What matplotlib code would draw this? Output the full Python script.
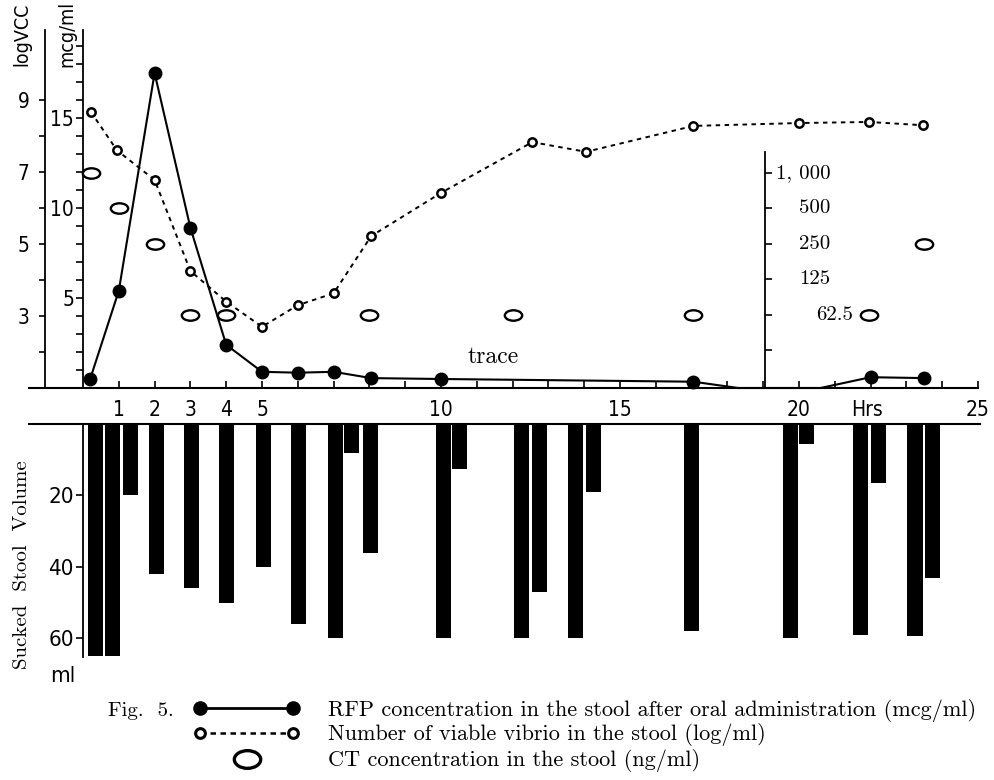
import matplotlib
matplotlib.use("Agg")
import matplotlib.pyplot as plt
import matplotlib.ticker as mticks
from matplotlib.path import Path
from matplotlib.transforms import Affine2D
import numpy as np

W, H = 995, 780

# RFP concentration (mcg/ml), filled dots, solid line
rfp_hours = [0.2, 1.0, 2.0, 3.0, 4.0, 5.0, 6.0, 7.0, 8.05, 10.0, 17.05, 18.3, 20.6, 22.0, 23.5]
rfp_mcg = [0.5, 5.4, 17.5, 8.9, 2.4, 0.9, 0.85, 0.9, 0.55, 0.5, 0.35, 0.0, 0.0, 0.6, 0.55]
rfp_marked = [0, 1, 2, 3, 4, 5, 6, 7, 8, 9, 10, 13, 14]

# viable vibrio (log/ml), open dots, dashed line
vib_hours = [0.22, 0.95, 2.0, 3.0, 4.0, 5.0, 6.0, 7.0, 8.05, 10.0, 12.55, 14.05, 17.05, 20.0, 21.95, 23.45]
vib_log = [8.67, 7.6, 6.78, 4.25, 3.4, 2.7, 3.3, 3.63, 5.22, 6.42, 7.83, 7.56, 8.28, 8.36, 8.39, 8.3]

# CT concentration (ng/ml), open ellipses
ct_hours = [0.22, 1.0, 2.0, 3.0, 4.0, 8.0, 12.0, 17.05, 21.95, 23.5]
ct_ngml = [1000, 500, 250, 62.5, 62.5, 62.5, 62.5, 62.5, 62.5, 250]
ct_ticks = [1000, 500, 250, 125, 62.5, 31.25]
ct_labels = ["1, 000", "500", "250", "125", "62.5", ""]

# sucked stool volume (ml)
stool_hours = [0.35, 0.82, 1.34, 2.04, 3.02, 4.02, 5.03, 6.03, 7.04, 7.49, 8.04, 10.06,
               10.53, 12.26, 12.75, 13.77, 14.25, 17.01, 19.75, 20.22, 21.73, 22.23, 23.24, 23.72]
stool_ml = [65, 65, 20, 42, 46, 50, 40, 56, 60, 8, 36, 60,
            12.5, 60, 47, 60, 19, 58, 60, 5.5, 59, 16.5, 59.5, 43]

hour_labels = [1, 2, 3, 4, 5, 10, 15, 20, 25]

serif = "cmr10"
sans = ["Liberation Sans Narrow", "DejaVu Sans"]


def px_rect(x0, y0, x1, y1):
    return [x0 / W, 1 - y1 / H, (x1 - x0) / W, (y1 - y0) / H]


fig = plt.figure(figsize=(W / 100, H / 100), dpi=100)

# ---- top panel: mcg/ml axis ----
ax = fig.add_axes(px_rect(29.3, 20, 978, 388))
ax.patch.set_visible(False)
ax.set_xlim(-1.5, 25)
ax.set_ylim(0, 368 / 18)
for s in ["top", "right"]:
    ax.spines[s].set_visible(False)
ax.spines["left"].set_position(("data", 0))
ax.spines["left"].set_bounds(0, 19.9)
ax.spines["left"].set_linewidth(1.3)
ax.spines["bottom"].set_linewidth(1.5)
ax.yaxis.set_major_locator(mticks.FixedLocator([5, 10, 15]))
ax.yaxis.set_minor_locator(mticks.FixedLocator([v for v in range(1, 20) if v % 5]))
ax.tick_params(axis="y", which="both", direction="out", length=5, width=1.2, pad=1.5,
               labelsize=15)
ax.xaxis.set_major_locator(mticks.FixedLocator(hour_labels))
ax.xaxis.set_minor_locator(mticks.FixedLocator([h for h in range(6, 25) if h not in hour_labels]))
ax.tick_params(axis="x", which="both", direction="in", length=5, width=1.2, pad=9,
               labelsize=15)
for lab in ax.get_xticklabels() + ax.get_yticklabels():
    lab.set_family(sans)
    lab.set_stretch("condensed")

ax.plot(rfp_hours, rfp_mcg, color="k", lw=1.5, marker="o", ms=9,
        markevery=rfp_marked, clip_on=False, zorder=5)
ax.text(11.45, 1.7, "trace", family=serif, fontsize=17, ha="center", va="center")
ax.text(21.9, -12.5 / 368, "Hrs", transform=ax.get_xaxis_transform(), family=sans,
        stretch="condensed", fontsize=15, ha="center", va="top")

# ---- top panel: logVCC axis ----
ax2 = ax.twinx()
ax2.set_ylim(1, 1 + 368 / 36)
for s in ["top", "right", "bottom"]:
    ax2.spines[s].set_visible(False)
ax2.spines["left"].set_visible(True)
ax2.spines["left"].set_position(("data", -1.06))
ax2.spines["left"].set_bounds(1, 10.94)
ax2.spines["left"].set_linewidth(1.3)
ax2.yaxis.tick_left()
ax2.yaxis.set_major_locator(mticks.FixedLocator([3, 5, 7, 9]))
ax2.yaxis.set_minor_locator(mticks.FixedLocator([2, 4, 6, 8]))
ax2.tick_params(axis="y", which="both", direction="out", length=4, width=1.2, pad=7,
                labelsize=15)
for lab in ax2.get_yticklabels():
    lab.set_family(sans)
    lab.set_stretch("condensed")
ax2.plot(vib_hours, vib_log, color="k", lw=1.4, dashes=(2.3, 2.3), marker="o", ms=6,
         mfc="white", mec="k", mew=1.8, zorder=4)

# ---- top panel: CT axis (log2) ----
ax3 = ax.twinx()
ax3.set_yscale("log", base=2)
ax3.set_ylim(62.5 / 2 ** (73 / 35.5), 62.5 * 2 ** (295 / 35.5))
for s in ["top", "left", "bottom"]:
    ax3.spines[s].set_visible(False)
ax3.spines["right"].set_position(("data", 19.05))
ax3.spines["right"].set_bounds(15.0, 1506)
ax3.spines["right"].set_linewidth(1.3)
ax3.yaxis.set_major_locator(mticks.FixedLocator(ct_ticks))
ax3.yaxis.set_minor_locator(mticks.NullLocator())
ax3.yaxis.set_major_formatter(mticks.NullFormatter())
ax3.tick_params(axis="y", direction="out", length=5, width=1.2)
for v, lab in zip(ct_ticks, ct_labels):
    xr = 21.5 if lab == "62.5" else 20.87
    ax3.text(xr, v, lab, family=serif, fontsize=15, ha="right", va="center")

ellipse = Path.unit_circle().transformed(Affine2D().scale(1.0, 0.6))
ax3.plot(ct_hours, ct_ngml, ls="none", marker=ellipse, ms=12.5, mfc="white",
         mec="k", mew=1.7, zorder=3)

fig.text(22 / W, 1 - 34 / H, "logVCC", rotation=90, ha="center", va="center",
         family=sans, stretch="condensed", fontsize=14)
fig.text(67 / W, 1 - 34 / H, "mcg/ml", rotation=90, ha="center", va="center",
         family=sans, stretch="condensed", fontsize=14)

# ---- bottom panel: sucked stool volume ----
axb = fig.add_axes(px_rect(29.3, 424, 980, 665))
axb.patch.set_visible(False)
axb.set_xlim(-1.5, 25 + 2 / 35.8)
axb.set_ylim((665 - 424) / 3.57, 0)
for s in ["right", "bottom"]:
    axb.spines[s].set_visible(False)
axb.spines["top"].set_linewidth(1.5)
axb.spines["left"].set_position(("data", 0))
axb.spines["left"].set_bounds(0, 65.3)
axb.spines["left"].set_linewidth(1.3)
axb.set_xticks([])
axb.set_yticks([20, 40, 60])
axb.tick_params(axis="y", direction="out", length=5, width=1.2, pad=1.5, labelsize=16)
for lab in axb.get_yticklabels():
    lab.set_family(sans)
    lab.set_stretch("condensed")
axb.bar(stool_hours, stool_ml, width=0.42, color="k", align="center")

fig.text(22 / W, 1 - 565 / H, "Sucked  Stool  Volume", rotation=90, ha="center",
         va="center", family=serif, fontsize=15)
fig.text(63 / W, 1 - 676 / H, "ml", ha="center", va="center", family=sans,
         stretch="condensed", fontsize=16)

# ---- legend strip ----
axl = fig.add_axes([0, 0, 1, 1])
axl.set_xlim(0, W)
axl.set_ylim(H, 0)
axl.axis("off")
axl.plot([200, 293], [708, 708], color="k", lw=2, marker="o", ms=9.5)
axl.plot([200, 293], [733, 733], color="k", lw=1.8, dashes=(2.2, 1.8), marker="o",
         ms=7, mfc="white", mew=2.2)
axl.plot([247], [759], ls="none", marker=Path.unit_circle().transformed(Affine2D().scale(1.0, 0.67)),
         ms=19, mfc="white", mec="k", mew=2.4)
fig.text(108 / W, 1 - 711 / H, "Fig.  5.", family=serif, fontsize=15, va="center")
legend_texts = ["RFP concentration in the stool after oral administration (mcg/ml)",
                "Number of viable vibrio in the stool (log/ml)",
                "CT concentration in the stool (ng/ml)"]
for yy, t in zip([710, 735, 760], legend_texts):
    fig.text(328 / W, 1 - yy / H, t, family=serif, fontsize=16, va="center")

fig.savefig("out.png", dpi=100)
